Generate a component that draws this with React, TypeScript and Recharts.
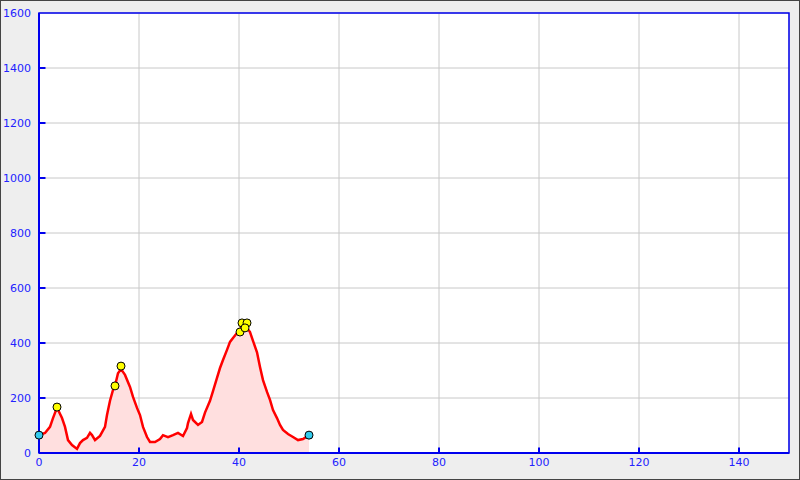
import React from 'react';
import {
  ComposedChart,
  Area,
  Scatter,
  XAxis,
  YAxis,
  CartesianGrid,
  ReferenceArea,
  ReferenceLine,
} from 'recharts';

// profile distance (x) and value (y)
const profileX = [
  0, 1.2, 2.2, 2.8, 3.6, 4.6, 5.2, 5.8, 6.6, 7.6, 8.2, 8.8, 9.6, 10.2, 10.6, 11.2, 12.2, 13.2,
  13.6, 14.2, 14.8, 15.2, 15.8, 16.4, 17.2, 18.2, 18.8, 19.6, 20.2, 20.8, 21.6, 22.2, 23.2, 24.2,
  24.8, 25.8, 26.8, 27.8, 28.8, 29.6, 29.8, 30.4, 30.8, 31.8, 32.6, 33.2, 34.2, 34.8, 35.6, 36.2,
  36.8, 37.6, 38.2, 38.8, 39.6, 40.4, 41.2, 42.2, 42.8, 43.6, 44.2, 44.8, 45.6, 46.2, 46.8, 47.6,
  48.2, 48.8, 49.8, 50.8, 51.8, 52.8, 54,
];
const profileY = [
  65, 73, 95, 127, 165, 127, 95, 47, 29, 15, 36, 47, 55, 73, 65, 47, 62, 95,
  138, 190, 229, 244, 290, 305, 284, 240, 204, 164, 138, 95, 58, 40, 40, 51,
  65, 58, 65, 73, 62, 91, 109, 142, 120, 102, 113, 147, 190, 225, 273, 309,
  338, 375, 404, 418, 436, 455, 465, 440, 408, 366, 313, 265, 222, 193, 156, 127,
  102, 84, 69, 58, 47, 51, 65,
];

// start / end markers
const endX = [0, 54];
const endY = [65, 65];

// peak markers
const peakX = [3.6, 15.2, 16.4, 40.2, 40.6, 41.6, 41.2];
const peakY = [167, 244, 316, 440, 473, 473, 455];

const xTicks = [0, 20, 40, 60, 80, 100, 120, 140];
const yTicks = [0, 200, 400, 600, 800, 1000, 1200, 1400, 1600];

const profile = profileX.map((x, i) => ({ x, y: profileY[i] }));
const ends = endX.map((x, i) => ({ x, y: endY[i] }));
const peaks = peakX.map((x, i) => ({ x, y: peakY[i] }));

const AXIS = '#0000ee';
const LABEL = '#2222ff';
const FONT = 'DejaVu Sans, sans-serif';
// inward tick mark lengths, in data units
const Y_TICK_LEN = 1.3;
const X_TICK_LEN = 20;

const Dot = (color: string) => (props: any) => {
  const { cx, cy } = props;
  return <circle cx={cx} cy={cy} r={4} fill={color} stroke="#000" strokeWidth={1} />;
};

export default function App() {
  return (
    <div
      style={{
        position: 'absolute',
        left: 0,
        top: 0,
        width: 800,
        height: 480,
        background: '#eeeeee',
        outline: '1px solid #444',
        outlineOffset: -1,
      }}
    >
      {/* white plot background under the svg */}
      <div style={{ position: 'absolute', left: 39, top: 13, width: 750, height: 440, background: '#fff' }} />
      <div style={{ position: 'absolute', left: 0, top: 0 }}>
        <ComposedChart width={800} height={480} margin={{ top: 13, right: 11, bottom: 0, left: 0 }}>
          <CartesianGrid stroke="#c8c8c8" strokeWidth={1} />
          <XAxis
            type="number"
            dataKey="x"
            domain={[0, 150]}
            ticks={xTicks}
            height={27}
            axisLine={{ stroke: AXIS, strokeWidth: 2 }}
            tickLine={false}
            tickSize={0}
            tickMargin={5}
            tick={{ fill: LABEL, fontSize: 11, fontFamily: FONT }}
          />
          <YAxis
            type="number"
            dataKey="y"
            domain={[0, 1600]}
            ticks={yTicks}
            width={39}
            axisLine={{ stroke: AXIS, strokeWidth: 2 }}
            tickLine={false}
            tickSize={0}
            tickMargin={8}
            tick={{ fill: LABEL, fontSize: 11, fontFamily: FONT }}
          />
          <Area
            data={profile}
            dataKey="y"
            type="linear"
            stroke="#ff0000"
            strokeWidth={2.5}
            fill="#ffdfdf"
            fillOpacity={1}
            dot={false}
            activeDot={false}
            isAnimationActive={false}
          />
          {yTicks.slice(1, -1).map((v) => (
            <ReferenceLine
              key={`yt${v}`}
              segment={[{ x: 0, y: v }, { x: Y_TICK_LEN, y: v }]}
              stroke={AXIS}
              strokeWidth={2}
              ifOverflow="visible"
            />
          ))}
          {xTicks.slice(1).map((v) => (
            <ReferenceLine
              key={`xt${v}`}
              segment={[{ x: v, y: 0 }, { x: v, y: X_TICK_LEN }]}
              stroke={AXIS}
              strokeWidth={2}
              ifOverflow="visible"
            />
          ))}
          <ReferenceArea x1={0} x2={150} y1={0} y2={1600} fill="none" stroke={AXIS} strokeWidth={1.5} ifOverflow="visible" />
          <Scatter data={ends} dataKey="y" shape={Dot('#33ccee')} isAnimationActive={false} />
          <Scatter data={peaks} dataKey="y" shape={Dot('#ffff00')} isAnimationActive={false} />
        </ComposedChart>
      </div>
    </div>
  );
}
